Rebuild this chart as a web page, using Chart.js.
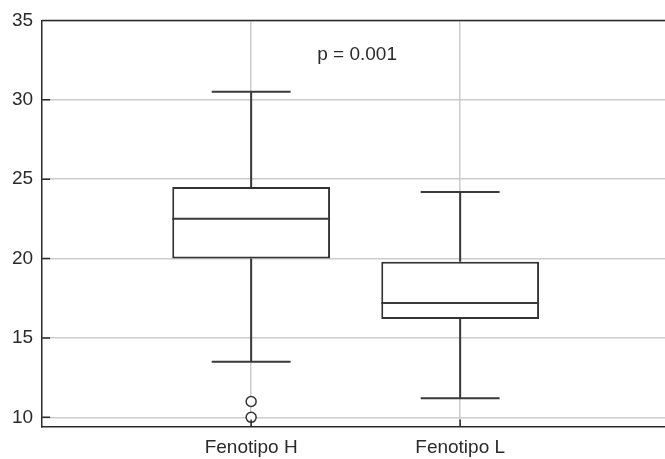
<!DOCTYPE html>
<html>
<head>
<meta charset="utf-8">
<script src="https://cdn.jsdelivr.net/npm/chart.js@4"></script>
<style>
  body { margin: 0; background: #fff; }
  #wrap { width: 665px; height: 459px; }
</style>
</head>
<body>
<div id="wrap"><canvas id="grafico" width="665" height="459"></canvas></div>
<script>
// datos
const categorias = ["Fenotipo H", "Fenotipo L"];
const cuartil1 = [20, 16.2];
const mediana = [22.5, 17.2];
const cuartil3 = [24.5, 19.8];
const bigoteInf = [13.5, 11.2];
const bigoteSup = [30.5, 24.2];
const atipicos = [[11, 10], []];
const ticksY = [10, 15, 20, 25, 30, 35];
const textoP = "p = 0.001";
const posTextoP = { x: 0.507, y: 32.86 };

const fuente = { family: "'Liberation Sans', Arial, sans-serif", size: 19 };
const oscuro = "#2a2a2a";

const cajas = categorias.map((c, i) => ({ x: i, y: [cuartil1[i], cuartil3[i]] }));
const puntos = [];
atipicos.forEach((lista, i) => lista.forEach((v) => puntos.push({ x: i, y: v })));

const bigotes = {
  id: "bigotes",
  afterDatasetsDraw(chart) {
    const ctx = chart.ctx;
    const x = chart.scales.x;
    const y = chart.scales.y;
    const meta = chart.getDatasetMeta(0);
    ctx.save();
    ctx.strokeStyle = "#3a3a3a";
    ctx.lineWidth = 2;
    meta.data.forEach((barra, i) => {
      const cx = x.getPixelForValue(i);
      const mitad = barra.width / 2;
      const cap = mitad / 2;
      ctx.beginPath();
      // mediana
      ctx.moveTo(cx - mitad, y.getPixelForValue(mediana[i]));
      ctx.lineTo(cx + mitad, y.getPixelForValue(mediana[i]));
      // bigote superior
      ctx.moveTo(cx, y.getPixelForValue(cuartil3[i]));
      ctx.lineTo(cx, y.getPixelForValue(bigoteSup[i]));
      ctx.moveTo(cx - cap, y.getPixelForValue(bigoteSup[i]));
      ctx.lineTo(cx + cap, y.getPixelForValue(bigoteSup[i]));
      // bigote inferior
      ctx.moveTo(cx, y.getPixelForValue(cuartil1[i]));
      ctx.lineTo(cx, y.getPixelForValue(bigoteInf[i]));
      ctx.moveTo(cx - cap, y.getPixelForValue(bigoteInf[i]));
      ctx.lineTo(cx + cap, y.getPixelForValue(bigoteInf[i]));
      ctx.stroke();
    });
    ctx.restore();
  },
  afterDraw(chart) {
    const ctx = chart.ctx;
    const area = chart.chartArea;
    const x = chart.scales.x;
    const y = chart.scales.y;
    ctx.save();
    ctx.strokeStyle = oscuro;
    ctx.lineWidth = 1.5;
    ctx.beginPath();
    // borde superior
    ctx.moveTo(area.left, area.top);
    ctx.lineTo(area.right, area.top);
    // marcas hacia dentro
    ticksY.forEach((v) => {
      const py = y.getPixelForValue(v);
      ctx.moveTo(area.left, py);
      ctx.lineTo(area.left + 8, py);
    });
    categorias.forEach((c, i) => {
      const px = x.getPixelForValue(i);
      ctx.moveTo(px, area.bottom);
      ctx.lineTo(px, area.bottom - 7);
    });
    ctx.stroke();
    ctx.fillStyle = oscuro;
    ctx.font = fuente.size + "px " + fuente.family;
    ctx.textAlign = "center";
    ctx.textBaseline = "middle";
    ctx.fillText(textoP, x.getPixelForValue(posTextoP.x), y.getPixelForValue(posTextoP.y));
    ctx.restore();
  }
};

new Chart(document.querySelector("#grafico"), {
  type: "bar",
  data: {
    datasets: [
      {
        data: cajas,
        backgroundColor: "#ffffff",
        borderColor: "#333333",
        borderWidth: 2,
        borderSkipped: false,
        barPercentage: 0.755,
        categoryPercentage: 1
      },
      {
        type: "scatter",
        data: puntos,
        pointRadius: 5,
        pointBackgroundColor: "#ffffff",
        pointBorderColor: "#333333",
        pointBorderWidth: 1.5
      }
    ]
  },
  options: {
    responsive: false,
    animation: false,
    devicePixelRatio: 1,
    layout: { autoPadding: false, padding: { left: 3, top: 16.6, right: 0, bottom: -10.2 } },
    plugins: { legend: { display: false }, tooltip: { enabled: false } },
    scales: {
      x: {
        type: "linear",
        min: -1,
        max: 1.98,
        offset: false,
        afterBuildTicks: (s) => { s.ticks = categorias.map((c, i) => ({ value: i })); },
        ticks: {
          callback: (v) => categorias[v],
          font: fuente,
          color: oscuro,
          padding: 10,
          autoSkip: false,
          maxRotation: 0
        },
        grid: { color: "#cccccc", lineWidth: 1.5, drawTicks: false, offset: false },
        border: { color: oscuro, width: 1.5 }
      },
      y: {
        min: 9.43,
        max: 35,
        afterBuildTicks: (s) => { s.ticks = ticksY.map((v) => ({ value: v })); },
        ticks: { font: fuente, color: oscuro, padding: 9 },
        grid: { color: "#cccccc", lineWidth: 1.5, drawTicks: false },
        border: { color: oscuro, width: 1.5 }
      }
    }
  },
  plugins: [bigotes]
});
</script>
</body>
</html>
